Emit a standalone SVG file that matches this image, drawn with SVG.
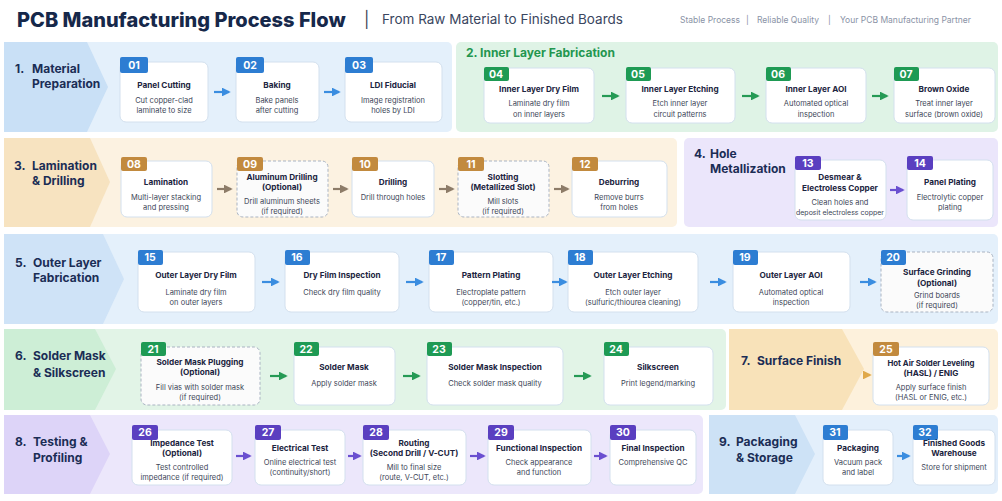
<svg xmlns="http://www.w3.org/2000/svg" width="1002" height="501" viewBox="0 0 1002 501">
<defs>
<style>
text{font-family:Inter,"Liberation Sans",sans-serif;dominant-baseline:central}
.h{font-size:20px;font-weight:800;fill:#16284a}
.sub{font-size:13.5px;fill:#3a4660}
.tag{font-size:8.5px;fill:#8a93a6}
.sec{font-size:12px;font-weight:700;fill:#1b2d55}
.box{fill:#fff;stroke:#d3e0ee;stroke-width:1}
.dash{fill:#fbfbfb;stroke:#a9b3c2;stroke-width:1;stroke-dasharray:3 2}
.t{font-size:8.2px;font-weight:700;fill:#1c2540;text-anchor:middle}
.d{font-size:7.5px;fill:#3d4658;text-anchor:middle}
.n{font-size:10.5px;font-weight:700;fill:#fff;text-anchor:middle}
.bb{fill:#2d7dd2}.bg{fill:#1e9a54}.bo{fill:#c28a3e}.bp{fill:#5a3fc0}
.ab{stroke:#3a8de0}.ag{stroke:#259a55}.ao{stroke:#8d7c68}.ap{stroke:#6a4fd0}
.arr line{stroke-width:2.2}
</style>
<marker id="mb" viewBox="0 0 10 10" refX="8" refY="5" markerWidth="4" markerHeight="4" orient="auto"><path d="M0,0L10,5L0,10z" fill="#3a8de0"/></marker>
<marker id="mg" viewBox="0 0 10 10" refX="8" refY="5" markerWidth="4" markerHeight="4" orient="auto"><path d="M0,0L10,5L0,10z" fill="#259a55"/></marker>
<marker id="mo" viewBox="0 0 10 10" refX="8" refY="5" markerWidth="4" markerHeight="4" orient="auto"><path d="M0,0L10,5L0,10z" fill="#8d7c68"/></marker>
<marker id="mp" viewBox="0 0 10 10" refX="8" refY="5" markerWidth="4" markerHeight="4" orient="auto"><path d="M0,0L10,5L0,10z" fill="#6a4fd0"/></marker>
<marker id="my" viewBox="0 0 10 10" refX="8" refY="5" markerWidth="4" markerHeight="4" orient="auto"><path d="M0,0L10,5L0,10z" fill="#e0a94a"/></marker>
</defs>
<rect width="1002" height="501" fill="#fff"/>
<text class="h" x="17" y="20">PCB Manufacturing Process Flow</text>
<text x="364" y="19" style="font-size:16px;fill:#445">|</text>
<text class="sub" x="382" y="19">From Raw Material to Finished Boards</text>
<text class="tag" x="680" y="20">Stable Process</text>
<text class="tag" x="746" y="20">|</text>
<text class="tag" x="757" y="20">Reliable Quality</text>
<text class="tag" x="828" y="20">|</text>
<text class="tag" x="840" y="20">Your PCB Manufacturing Partner</text>

<g id="panels">
<rect x="4" y="42" width="448" height="90" rx="5" fill="#e4f0fb"/>
<path d="M4,42H87L108,87L87,132H4z" fill="#c9e0f6"/>
<rect x="456" y="42" width="542" height="90" rx="5" fill="#dff3e6"/>
<rect x="4" y="138" width="673" height="89" rx="5" fill="#fcf2e1"/>
<path d="M4,138H90L110,182L90,227H4z" fill="#f7e3c0"/>
<rect x="684" y="138" width="314" height="89" rx="5" fill="#ebe6fb"/>
<rect x="4" y="234" width="994" height="90" rx="5" fill="#e4f0fb"/>
<path d="M4,234H103L124,279L103,324H4z" fill="#cfe3f7"/>
<rect x="4" y="329" width="722" height="81" rx="5" fill="#e2f4e7"/>
<path d="M4,329H95L116,369L95,410H4z" fill="#cdeed6"/>
<rect x="729" y="329" width="269" height="81" rx="5" fill="#fdf1dc"/>
<path d="M729,329H842L864,369L842,410H729z" fill="#f8e2b9"/>
<rect x="4" y="415" width="699" height="79" rx="5" fill="#ece7fb"/>
<path d="M4,415H90L110,454L90,494H4z" fill="#ddd4f8"/>
<rect x="709" y="415" width="289" height="79" rx="5" fill="#e3effb"/>
<path d="M709,415H795L815,454L795,494H709z" fill="#cde2f6"/>
</g>
<g id="section-labels">
<text class="sec" x="15" y="68">1.</text><text class="sec" x="32" y="68">Material</text><text class="sec" x="32" y="83">Preparation</text>
<text class="sec" x="466" y="52" style="fill:#23964f">2.  Inner Layer Fabrication</text>
<text class="sec" x="14" y="165">3.</text><text class="sec" x="32" y="165">Lamination</text><text class="sec" x="32" y="180">&amp; Drilling</text>
<text class="sec" x="694" y="153">4.</text><text class="sec" x="710" y="153">Hole</text><text class="sec" x="710" y="168">Metallization</text>
<text class="sec" x="15" y="262">5.</text><text class="sec" x="33" y="262">Outer Layer</text><text class="sec" x="33" y="277">Fabrication</text>
<text class="sec" x="15" y="355">6.</text><text class="sec" x="33" y="355">Solder Mask</text><text class="sec" x="33" y="372">&amp; Silkscreen</text>
<text class="sec" x="741" y="360">7.</text><text class="sec" x="757" y="360">Surface Finish</text>
<text class="sec" x="15" y="441">8.</text><text class="sec" x="33" y="441">Testing &amp;</text><text class="sec" x="33" y="457">Profiling</text>
<text class="sec" x="719" y="441">9.</text><text class="sec" x="736" y="441">Packaging</text><text class="sec" x="736" y="457">&amp; Storage</text>
</g>

<g id="n01"><rect class="box" x="120" y="62" width="88" height="60" rx="6"/><rect class="bb" x="120" y="57" width="28" height="16" rx="2"/><text class="n" x="134" y="65">01</text><text class="t" x="164" y="85">Panel Cutting</text><text class="d" x="164" y="100">Cut copper-clad</text><text class="d" x="164" y="110">laminate to size</text></g>
<g id="n02"><rect class="box" x="236" y="62" width="83" height="60" rx="6"/><rect class="bb" x="236" y="57" width="28" height="16" rx="2"/><text class="n" x="250" y="65">02</text><text class="t" x="277" y="85">Baking</text><text class="d" x="277" y="100">Bake panels</text><text class="d" x="277" y="110">after cutting</text></g>
<g id="n03"><rect class="box" x="345" y="62" width="97" height="60" rx="6"/><rect class="bb" x="345" y="57" width="28" height="16" rx="2"/><text class="n" x="359" y="65">03</text><text class="t" x="393" y="85">LDI Fiducial</text><text class="d" x="393" y="100">Image registration</text><text class="d" x="393" y="110">holes by LDI</text></g>

<g id="n04"><rect class="box" x="484" y="68" width="110" height="55" rx="6"/><rect class="bg" x="484" y="67" width="25" height="14" rx="2"/><text class="n" x="496" y="74">04</text><text class="t" x="539" y="89">Inner Layer Dry Film</text><text class="d" x="539" y="103">Laminate dry film</text><text class="d" x="539" y="114">on inner layers</text></g>
<g id="n05"><rect class="box" x="626" y="68" width="109" height="55" rx="6"/><rect class="bg" x="626" y="67" width="25" height="14" rx="2"/><text class="n" x="638" y="74">05</text><text class="t" x="680" y="89">Inner Layer Etching</text><text class="d" x="680" y="103">Etch inner layer</text><text class="d" x="680" y="114">circuit patterns</text></g>
<g id="n06"><rect class="box" x="766" y="68" width="100" height="55" rx="6"/><rect class="bg" x="766" y="67" width="25" height="14" rx="2"/><text class="n" x="778" y="74">06</text><text class="t" x="816" y="89">Inner Layer AOI</text><text class="d" x="816" y="103">Automated optical</text><text class="d" x="816" y="114">inspection</text></g>
<g id="n07"><rect class="box" x="894" y="68" width="101" height="55" rx="6"/><rect class="bg" x="894" y="67" width="25" height="14" rx="2"/><text class="n" x="906" y="74">07</text><text class="t" x="944" y="89">Brown Oxide</text><text class="d" x="944" y="103">Treat inner layer</text><text class="d" x="944" y="114">surface (brown oxide)</text></g>

<g id="n08"><rect class="box" x="121" y="161" width="91" height="56" rx="6"/><rect class="bo" x="121" y="157" width="26" height="14" rx="2"/><text class="n" x="134" y="164">08</text><text class="t" x="166" y="182">Lamination</text><text class="d" x="166" y="197">Multi-layer stacking</text><text class="d" x="166" y="207">and pressing</text></g>
<g id="n09"><rect class="dash" x="237" y="161" width="91" height="56" rx="6"/><rect class="bo" x="237" y="157" width="26" height="14" rx="2"/><text class="n" x="250" y="164">09</text><text class="t" x="282" y="177">Aluminum Drilling</text><text class="t" x="282" y="187">(Optional)</text><text class="d" x="282" y="201">Drill aluminum sheets</text><text class="d" x="282" y="211">(if required)</text></g>
<g id="n10"><rect class="box" x="352" y="161" width="82" height="56" rx="6"/><rect class="bo" x="352" y="157" width="26" height="14" rx="2"/><text class="n" x="365" y="164">10</text><text class="t" x="393" y="182">Drilling</text><text class="d" x="393" y="197">Drill through holes</text></g>
<g id="n11"><rect class="dash" x="458" y="161" width="91" height="56" rx="6"/><rect class="bo" x="458" y="157" width="26" height="14" rx="2"/><text class="n" x="471" y="164">11</text><text class="t" x="503" y="177">Slotting</text><text class="t" x="503" y="187">(Metallized Slot)</text><text class="d" x="503" y="201">Mill slots</text><text class="d" x="503" y="211">(if required)</text></g>
<g id="n12"><rect class="box" x="572" y="161" width="95" height="56" rx="6"/><rect class="bo" x="572" y="157" width="26" height="14" rx="2"/><text class="n" x="585" y="164">12</text><text class="t" x="619" y="182">Deburring</text><text class="d" x="619" y="197">Remove burrs</text><text class="d" x="619" y="207">from holes</text></g>

<g id="n13"><rect class="box" x="795" y="160" width="91" height="60" rx="6"/><rect class="bp" x="795" y="156" width="26" height="14" rx="2"/><text class="n" x="808" y="163">13</text><text class="t" x="840" y="177">Desmear &amp;</text><text class="t" x="840" y="188">Electroless Copper</text><text class="d" x="840" y="202">Clean holes and</text><text class="d" x="840" y="212" style="font-size:7px">deposit electroless copper</text></g>
<g id="n14"><rect class="box" x="907" y="160" width="86" height="60" rx="6"/><rect class="bp" x="907" y="156" width="26" height="14" rx="2"/><text class="n" x="920" y="163">14</text><text class="t" x="950" y="182">Panel Plating</text><text class="d" x="950" y="197">Electrolytic copper</text><text class="d" x="950" y="207">plating</text></g>

<g id="n15"><rect class="box" x="138" y="252" width="117" height="60" rx="6"/><rect class="bb" x="138" y="250" width="25" height="15" rx="2"/><text class="n" x="150" y="257">15</text><text class="t" x="196" y="275">Outer Layer Dry Film</text><text class="d" x="196" y="292">Laminate dry film</text><text class="d" x="196" y="302">on outer layers</text></g>
<g id="n16"><rect class="box" x="285" y="252" width="114" height="60" rx="6"/><rect class="bb" x="285" y="250" width="25" height="15" rx="2"/><text class="n" x="297" y="257">16</text><text class="t" x="342" y="275">Dry Film Inspection</text><text class="d" x="342" y="292">Check dry film quality</text></g>
<g id="n17"><rect class="box" x="429" y="252" width="124" height="60" rx="6"/><rect class="bb" x="429" y="250" width="25" height="15" rx="2"/><text class="n" x="441" y="257">17</text><text class="t" x="491" y="275">Pattern Plating</text><text class="d" x="491" y="292">Electroplate pattern</text><text class="d" x="491" y="302">(copper/tin, etc.)</text></g>
<g id="n18"><rect class="box" x="568" y="252" width="130" height="60" rx="6"/><rect class="bb" x="568" y="250" width="25" height="15" rx="2"/><text class="n" x="580" y="257">18</text><text class="t" x="633" y="275">Outer Layer Etching</text><text class="d" x="633" y="292">Etch outer layer</text><text class="d" x="633" y="302">(sulfuric/thiourea cleaning)</text></g>
<g id="n19"><rect class="box" x="733" y="252" width="117" height="60" rx="6"/><rect class="bb" x="733" y="250" width="25" height="15" rx="2"/><text class="n" x="745" y="257">19</text><text class="t" x="791" y="275">Outer Layer AOI</text><text class="d" x="791" y="292">Automated optical</text><text class="d" x="791" y="302">inspection</text></g>
<g id="n20"><rect class="dash" x="881" y="252" width="112" height="60" rx="6"/><rect class="bb" x="881" y="250" width="25" height="15" rx="2"/><text class="n" x="893" y="257">20</text><text class="t" x="937" y="272">Surface Grinding</text><text class="t" x="937" y="283">(Optional)</text><text class="d" x="937" y="295">Grind boards</text><text class="d" x="937" y="305">(if required)</text></g>

<g id="n21"><rect class="dash" x="141" y="347" width="119" height="58" rx="6"/><rect class="bg" x="141" y="342" width="25" height="14" rx="2"/><text class="n" x="153" y="349">21</text><text class="t" x="200" y="362">Solder Mask Plugging</text><text class="t" x="200" y="372">(Optional)</text><text class="d" x="200" y="387">Fill vias with solder mask</text><text class="d" x="200" y="397">(if required)</text></g>
<g id="n22"><rect class="box" x="294" y="347" width="101" height="58" rx="6"/><rect class="bg" x="294" y="342" width="25" height="14" rx="2"/><text class="n" x="306" y="349">22</text><text class="t" x="344" y="367">Solder Mask</text><text class="d" x="344" y="383">Apply solder mask</text></g>
<g id="n23"><rect class="box" x="427" y="347" width="136" height="58" rx="6"/><rect class="bg" x="427" y="342" width="25" height="14" rx="2"/><text class="n" x="439" y="349">23</text><text class="t" x="495" y="367">Solder Mask Inspection</text><text class="d" x="495" y="383">Check solder mask quality</text></g>
<g id="n24"><rect class="box" x="604" y="347" width="109" height="58" rx="6"/><rect class="bg" x="604" y="342" width="25" height="14" rx="2"/><text class="n" x="616" y="349">24</text><text class="t" x="658" y="367">Silkscreen</text><text class="d" x="658" y="383">Print legend/marking</text></g>
<g id="n25"><rect class="box" x="873" y="347" width="116" height="58" rx="6"/><rect class="bo" x="873" y="342" width="26" height="14" rx="2"/><text class="n" x="886" y="349">25</text><text class="t" x="931" y="363" style="font-size:7.8px">Hot Air Solder Leveling</text><text class="t" x="931" y="373">(HASL) / ENIG</text><text class="d" x="931" y="387">Apply surface finish</text><text class="d" x="931" y="397">(HASL or ENIG, etc.)</text></g>

<g id="n26"><rect class="box" x="132" y="430" width="100" height="55" rx="6"/><rect class="bp" x="132" y="425" width="26" height="15" rx="2"/><text class="n" x="145" y="432">26</text><text class="t" x="182" y="443">Impedance Test</text><text class="t" x="182" y="453">(Optional)</text><text class="d" x="182" y="467">Test controlled</text><text class="d" x="182" y="477">impedance (if required)</text></g>
<g id="n27"><rect class="box" x="255" y="430" width="90" height="55" rx="6"/><rect class="bp" x="255" y="425" width="26" height="15" rx="2"/><text class="n" x="268" y="432">27</text><text class="t" x="300" y="448">Electrical Test</text><text class="d" x="300" y="462">Online electrical test</text><text class="d" x="300" y="472">(continuity/short)</text></g>
<g id="n28"><rect class="box" x="363" y="430" width="103" height="55" rx="6"/><rect class="bp" x="363" y="425" width="26" height="15" rx="2"/><text class="n" x="376" y="432">28</text><text class="t" x="414" y="443">Routing</text><text class="t" x="414" y="453">(Second Drill / V-CUT)</text><text class="d" x="414" y="467">Mill to final size</text><text class="d" x="414" y="477">(route, V-CUT, etc.)</text></g>
<g id="n29"><rect class="box" x="488" y="430" width="103" height="55" rx="6"/><rect class="bp" x="488" y="425" width="26" height="15" rx="2"/><text class="n" x="501" y="432">29</text><text class="t" x="539" y="448">Functional Inspection</text><text class="d" x="539" y="462">Check appearance</text><text class="d" x="539" y="472">and function</text></g>
<g id="n30"><rect class="box" x="610" y="430" width="86" height="55" rx="6"/><rect class="bp" x="610" y="425" width="26" height="15" rx="2"/><text class="n" x="623" y="432">30</text><text class="t" x="653" y="448">Final Inspection</text><text class="d" x="653" y="462">Comprehensive QC</text></g>
<g id="n31"><rect class="box" x="823" y="430" width="70" height="55" rx="6"/><rect class="bb" x="823" y="425" width="25" height="15" rx="2"/><text class="n" x="835" y="432">31</text><text class="t" x="858" y="448">Packaging</text><text class="d" x="858" y="462">Vacuum pack</text><text class="d" x="858" y="472">and label</text></g>
<g id="n32"><rect class="box" x="913" y="430" width="82" height="55" rx="6"/><rect class="bb" x="913" y="425" width="25" height="15" rx="2"/><text class="n" x="925" y="432">32</text><text class="t" x="954" y="443">Finished Goods</text><text class="t" x="954" y="453">Warehouse</text><text class="d" x="954" y="467">Store for shipment</text></g>

<g id="connectors" class="arr">
<line class="ab" x1="214" y1="92" x2="229" y2="92" marker-end="url(#mb)"/>
<line class="ab" x1="324" y1="92" x2="339" y2="92" marker-end="url(#mb)"/>
<line class="ag" x1="602" y1="96" x2="618" y2="96" marker-end="url(#mg)"/>
<line class="ag" x1="742" y1="96" x2="758" y2="96" marker-end="url(#mg)"/>
<line class="ag" x1="872" y1="96" x2="887" y2="96" marker-end="url(#mg)"/>
<line class="ao" x1="217" y1="189" x2="231" y2="189" marker-end="url(#mo)"/>
<line class="ao" x1="333" y1="189" x2="347" y2="189" marker-end="url(#mo)"/>
<line class="ao" x1="439" y1="189" x2="453" y2="189" marker-end="url(#mo)"/>
<line class="ao" x1="554" y1="189" x2="568" y2="189" marker-end="url(#mo)"/>
<line class="ap" x1="890" y1="190" x2="903" y2="190" marker-end="url(#mp)"/>
<line class="ab" x1="262" y1="282" x2="278" y2="282" marker-end="url(#mb)"/>
<line class="ab" x1="406" y1="282" x2="422" y2="282" marker-end="url(#mb)"/>
<line class="ab" x1="552" y1="282" x2="566" y2="282" marker-end="url(#mb)"/>
<line class="ab" x1="710" y1="282" x2="725" y2="282" marker-end="url(#mb)"/>
<line class="ab" x1="860" y1="282" x2="875" y2="282" marker-end="url(#mb)"/>
<line class="ag" x1="270" y1="376" x2="286" y2="376" marker-end="url(#mg)"/>
<line class="ag" x1="403" y1="376" x2="419" y2="376" marker-end="url(#mg)"/>
<line class="ag" x1="574" y1="376" x2="590" y2="376" marker-end="url(#mg)"/>
<line x1="864" y1="375" x2="870" y2="375" stroke="#e0a94a" marker-end="url(#my)"/>
<line class="ap" x1="236" y1="456" x2="250" y2="456" marker-end="url(#mp)"/>
<line class="ap" x1="348" y1="456" x2="360" y2="456" marker-end="url(#mp)"/>
<line class="ap" x1="470" y1="456" x2="484" y2="456" marker-end="url(#mp)"/>
<line class="ap" x1="594" y1="456" x2="606" y2="456" marker-end="url(#mp)"/>
<line class="ab" x1="897" y1="456" x2="909" y2="456" marker-end="url(#mb)"/>
</g>
</svg>
